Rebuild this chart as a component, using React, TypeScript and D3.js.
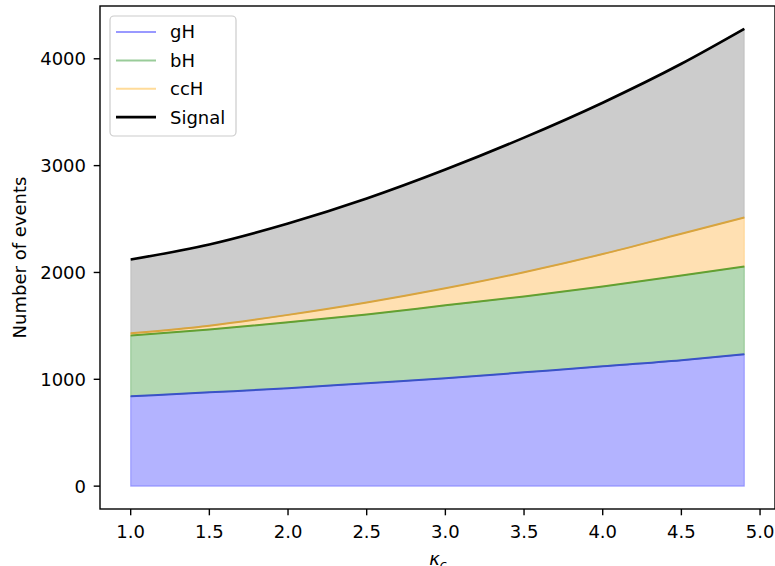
import React from "react";
import * as d3 from "d3";

const kappa = [1.0, 1.5, 2.0, 2.5, 3.0, 3.5, 4.0, 4.5, 4.9];
const gH = [841, 878, 916, 963, 1009, 1065, 1121, 1178, 1234];
const bH = [570, 589, 617, 644, 683, 711, 748, 794, 822];
const ccH = [19, 35, 70, 112, 160, 226, 303, 390, 458];
const signal = [2121, 2262, 2458, 2692, 2963, 3262, 3589, 3953, 4280];
const xTicks = [1.0, 1.5, 2.0, 2.5, 3.0, 3.5, 4.0, 4.5, 5.0];
const yTicks = [0, 1000, 2000, 3000, 4000];
const legendLabels = ["gH", "bH", "ccH", "Signal"];

const W = 775, H = 566;
const L = 100, R = 775, T = 6, B = 509;
const FONT = "DejaVu Sans, sans-serif";

export default function App() {
  const x = d3.scaleLinear().domain([0.805, 5.095]).range([L, R]);
  const y = d3.scaleLinear().domain([-214, 4494]).range([B, T]);

  const rows = kappa.map((k, i) => ({ k, gH: gH[i], bH: bH[i], ccH: ccH[i], sig: signal[i] }));
  const stack = d3.stack<any>().keys(["gH", "bH", "ccH"])(rows);

  const area = d3
    .area<any>()
    .x((d: any) => x(d.data.k))
    .y0((d: any) => y(d[0]))
    .y1((d: any) => y(d[1]))
    .curve(d3.curveMonotoneX);
  const topLine = d3
    .line<any>()
    .x((d: any) => x(d.data.k))
    .y((d: any) => y(d[1]))
    .curve(d3.curveMonotoneX);

  const top = stack[2];
  const grayArea = d3
    .area<any>()
    .x((d: any) => x(d.k))
    .y0((d: any, i: number) => y(top[i][1]))
    .y1((d: any) => y(d.sig))
    .curve(d3.curveMonotoneX);
  const sigLine = d3
    .line<any>()
    .x((d: any) => x(d.k))
    .y((d: any) => y(d.sig))
    .curve(d3.curveMonotoneX);

  const fills = ["#b3b3ff", "#b3d8b3", "#ffe0b2"];
  const edges = ["rgba(0,0,255,0.25)", "rgba(0,128,0,0.25)", "rgba(255,165,0,0.25)"];
  const lines = ["#3a52c8", "#62a032", "#d8a43e"];
  const handleColors = ["#9999ff", "#99cc99", "#ffdb99", "#000000"];

  return (
    <svg
      width={W}
      height={H}
      style={{ position: "absolute", left: 0, top: 0, background: "#fff" }}
      fontFamily={FONT}
    >
      <rect x={0} y={0} width={W} height={H} fill="#fff" />
      {stack.map((s, i) => (
        <path key={"a" + i} d={area(s) || ""} fill={fills[i]} stroke={edges[i]} strokeWidth={1.2} />
      ))}
      <path d={grayArea(rows) || ""} fill="#cccccc" stroke="rgba(0,0,0,0.1)" strokeWidth={1.2} />
      {stack.map((s, i) => (
        <path key={"l" + i} d={topLine(s) || ""} fill="none" stroke={lines[i]} strokeWidth={2} />
      ))}
      <path d={sigLine(rows) || ""} fill="none" stroke="#000" strokeWidth={2.7} />

      {/* spines */}
      <rect x={L} y={T} width={R - L} height={B - T} fill="none" stroke="#000" strokeWidth={1.4} />

      {/* x ticks */}
      {xTicks.map((t) => (
        <g key={"x" + t}>
          <line x1={x(t)} x2={x(t)} y1={B} y2={B + 6.3} stroke="#000" strokeWidth={1.4} />
          <text x={x(t)} y={538} textAnchor="middle" fontSize={18} fill="#000">
            {t.toFixed(1)}
          </text>
        </g>
      ))}
      {/* y ticks */}
      {yTicks.map((t) => (
        <g key={"y" + t}>
          <line x1={L} x2={L - 6.3} y1={y(t)} y2={y(t)} stroke="#000" strokeWidth={1.4} />
          <text x={86} y={y(t)} dy="0.36em" textAnchor="end" fontSize={18} fill="#000">
            {t}
          </text>
        </g>
      ))}

      <text
        transform={`translate(26,${(T + B) / 2}) rotate(-90)`}
        textAnchor="middle"
        fontSize={18}
        fill="#000"
      >
        Number of events
      </text>
      <text x={438} y={565} textAnchor="middle" fontSize={18} fontStyle="italic" fill="#000">
        κ<tspan fontSize={12.6} dy={4}>c</tspan>
      </text>

      {/* legend */}
      <rect x={110} y={16} width={126} height={120} rx={4} fill="rgba(255,255,255,0.8)" stroke="#cccccc" strokeWidth={1.2} />
      {legendLabels.map((lab, i) => {
        const cy = 32 + i * 28.4;
        return (
          <g key={lab}>
            <line x1={116} x2={156} y1={cy} y2={cy} stroke={handleColors[i]} strokeWidth={i === 3 ? 2.7 : 2} />
            <text x={170} y={cy} dy="0.36em" fontSize={18} fill="#000">
              {lab}
            </text>
          </g>
        );
      })}
    </svg>
  );
}
